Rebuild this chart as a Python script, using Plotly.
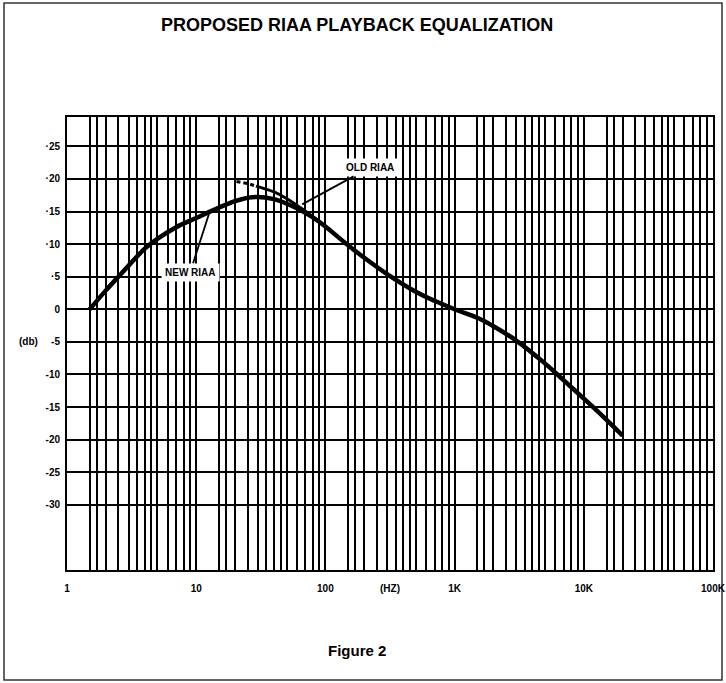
import plotly.graph_objects as go

# ---- data ----
new_freq = [1.5, 2, 2.5, 3, 4, 5, 7, 10, 15, 20, 27, 40, 60, 80, 100, 140, 200, 300, 500, 700, 1000, 1500, 2000, 3000, 5000, 7000, 10000, 14000, 20000]
new_db   = [0, 2.9, 5.0, 6.7, 9.3, 10.8, 12.6, 14.0, 15.6, 16.6, 17.2, 16.9, 15.5, 14.1, 12.7, 10.3, 7.9, 5.4, 2.7, 1.3, 0.0, -1.3, -2.6, -4.8, -8.3, -10.9, -13.7, -16.4, -19.4]

old_dash_freq = [20.5, 25, 29]
old_dash_db   = [19.6, 19.3, 18.9]
old_freq = [29, 40, 50, 65, 80]
old_db   = [18.9, 18.0, 17.0, 15.5, 14.2]

decades = [1, 10, 100, 1000, 10000, 100000]
decade_labels = ["1", "10", "100", "1K", "10K", "100K"]
minor_mult = [1.5, 1.7, 2, 2.5, 3, 3.5, 4, 4.5, 5, 6, 7, 8, 9]

y_ticks = [25, 20, 15, 10, 5, 0, -5, -10, -15, -20, -25, -30]
y_labels = ["·25", "·20", "·15", "·10", "·5", "0", "-5", "-10", "-15", "-20", "-25", "-30"]

# ---- grid positions ----
x_vals, x_text = [], []
for d, lab in zip(decades, decade_labels):
    x_vals.append(d); x_text.append(lab)
    if d < 100000:
        for m in minor_mult:
            x_vals.append(d * m); x_text.append("")

FONT = "Liberation Sans, Arial, Helvetica, sans-serif"
L, R, T, B = 67, 13, 117, 113
W, H = 726, 683
PW, PH = W - L - R, H - T - B

fig = go.Figure()
fig.add_trace(go.Scatter(x=new_freq, y=new_db, mode="lines",
                         line=dict(color="black", width=4.5, shape="spline", smoothing=1.0),
                         showlegend=False, hoverinfo="skip"))
fig.add_trace(go.Scatter(x=old_dash_freq, y=old_dash_db, mode="lines",
                         line=dict(color="black", width=3, dash="4px,3px"),
                         showlegend=False, hoverinfo="skip"))
fig.add_trace(go.Scatter(x=old_freq, y=old_db, mode="lines",
                         line=dict(color="black", width=3, shape="spline"),
                         showlegend=False, hoverinfo="skip"))

fig.update_xaxes(type="log", range=[0, 5], tickmode="array", tickvals=x_vals, ticktext=x_text,
                 showgrid=True, gridcolor="black", gridwidth=2,
                 showline=True, linecolor="black", linewidth=2, mirror=True,
                 ticks="outside", ticklen=8, tickcolor="rgba(0,0,0,0)",
                 tickfont=dict(family=FONT, size=10, color="black", weight="bold"),
                 zeroline=False, automargin=False)
fig.update_yaxes(range=[-40, 29.5], tickmode="array", tickvals=y_ticks, ticktext=y_labels,
                 showgrid=True, gridcolor="black", gridwidth=2,
                 showline=True, linecolor="black", linewidth=2, mirror=True,
                 ticks="outside", ticklen=3, tickcolor="rgba(0,0,0,0)",
                 tickfont=dict(family=FONT, size=10, color="black", weight="bold"),
                 zeroline=False, automargin=False)

def px(xp):
    return (xp - L) / PW

def py(yp):
    return (H - B - yp) / PH

ann = dict(font=dict(family=FONT, size=10, color="black", weight="bold"), showarrow=False)
fig.add_annotation(text="PROPOSED RIAA PLAYBACK EQUALIZATION", xref="paper", yref="paper",
                   x=px(357), y=py(25), xanchor="center", yanchor="middle",
                   showarrow=False, font=dict(family=FONT, size=18, color="black", weight="bold"))
fig.add_annotation(text="Figure 2", xref="paper", yref="paper",
                   x=px(357), y=py(650), xanchor="center", yanchor="middle",
                   showarrow=False, font=dict(family=FONT, size=15, color="black", weight="bold"))
fig.add_annotation(text="(db)", xref="paper", yref="y", x=px(28), y=-5,
                   xanchor="center", yanchor="middle", **ann)
fig.add_annotation(text="(HZ)", xref="paper", yref="paper", x=px(390), y=py(588),
                   xanchor="center", yanchor="middle", **ann)

fig.add_annotation(text="NEW RIAA", x=1.108, y=15.2, xref="x", yref="y",
                   showarrow=True, arrowhead=0, arrowwidth=1.8, arrowcolor="black",
                   ax=-20, ay=62, bgcolor="white", borderpad=3,
                   font=dict(family=FONT, size=10, color="black", weight="bold"))
fig.add_annotation(text="OLD RIAA", x=1.82, y=16.1, xref="x", yref="y",
                   showarrow=True, arrowhead=0, arrowwidth=1.8, arrowcolor="black",
                   ax=68, ay=-37, bgcolor="white", borderpad=3,
                   font=dict(family=FONT, size=10, color="black", weight="bold"))

# outer frame
fig.add_shape(type="rect", xref="paper", yref="paper",
              x0=px(4), x1=px(722), y0=py(680), y1=py(3),
              line=dict(color="#333", width=1.5), layer="below")

fig.update_layout(width=W, height=H, margin=dict(l=L, r=R, t=T, b=B, autoexpand=False),
                  paper_bgcolor="white", plot_bgcolor="white", showlegend=False)

fig.write_html("out.html", config={"displayModeBar": False},
               post_script="document.body.style.margin='0';document.body.style.overflow='hidden';")
